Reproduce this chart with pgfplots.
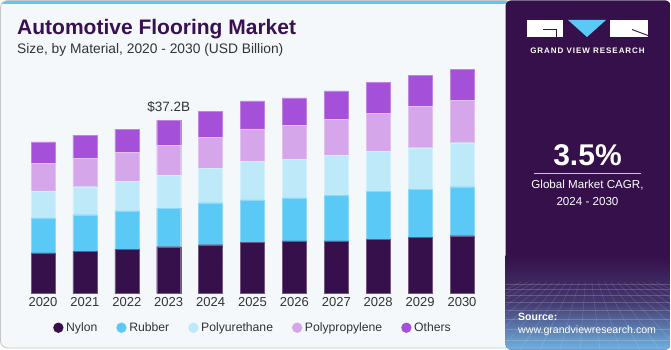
\documentclass[border=0pt]{standalone}
\usepackage{pgfplots}
\usepackage{pgfplotstable}
\pgfplotsset{compat=1.18}
\usepackage{fontspec}
\setmainfont{Liberation Sans}
\newfontfamily\gvrfont[LetterSpace=12]{Liberation Sans}
\definecolor{nylon}{HTML}{36104A}
\definecolor{rubber}{HTML}{5BC9F5}
\definecolor{pu}{HTML}{BDE9F9}
\definecolor{pp}{HTML}{D5A6EA}
\definecolor{others}{HTML}{A550D8}
\definecolor{panel}{HTML}{36104A}
\definecolor{bgl}{HTML}{F4F8FB}
\definecolor{titlec}{HTML}{3A1052}
\definecolor{txt}{HTML}{333333}
\definecolor{stripe}{HTML}{5BC8F5}
\definecolor{lowblue}{HTML}{6FB4E2}

\pgfplotstableread{
x nylon rubber pu pp others
0 8.67 7.53 5.81 5.96 4.58
1 9.03 7.87 6.02 6.17 4.88
2 9.46 8.24 6.45 6.17 5.01
3 10.02 8.32 7.10 6.39 5.37
4 10.45 9.03 7.46 6.67 5.59
5 10.97 9.10 8.24 7.03 6.02
6 11.25 9.25 8.24 7.40 5.87
7 11.25 9.89 8.60 7.68 6.09
8 11.61 10.32 8.67 8.11 6.67
9 11.96 10.41 8.94 8.82 6.75
10 12.38 10.54 9.46 9.12 6.67
}\datatable

\begin{document}
\begin{tikzpicture}
\path[use as bounding box] (0pt,0pt) rectangle (671pt,-350pt);
\begin{scope}[x=1pt,y=-1pt]
  \fill[white] (0,0) rectangle (671,350);
  % left panel
  \begin{scope}
    \clip[rounded corners=7pt] (0.5,0.5) rectangle (512,348);
    \fill[bgl] (0,0) rectangle (512,350);
    \fill[stripe] (0,0) rectangle (512,4);
  \end{scope}
  \draw[black!22, line width=0.8pt, rounded corners=7pt] (0.5,0.5) rectangle (512,348);
  % right panel
  \begin{scope}
    \clip[rounded corners=6pt] (505.5,0.3) rectangle (670.7,349.7);
    \fill[panel] (505,0) rectangle (671,350);
    \shade[top color=panel, bottom color=lowblue, middle color=panel!75!lowblue] (505,255) rectangle (671,350);
    \begin{scope}
      \clip (505,282) rectangle (671,350);
      \foreach \yy in {284,289,295,302,310,319,329,340} {
        \draw[white, opacity=0.18, line width=0.5pt] (505,\yy) -- (671,\yy);
      }
      \foreach \xx in {380,400,...,800} {
        \draw[white, opacity=0.15, line width=0.5pt] (588,250) -- (\xx,350);
      }
    \end{scope}
  \end{scope}
  % logo
  \fill[white] (527,20) rectangle (563,37);
  \draw[panel, line width=0.9pt] (543,29) -- (556,29) -- (556,37);
  \fill[stripe] (568,20) -- (606,20) -- (587,37) -- cycle;
  \fill[white] (610,20) rectangle (648,37);
  \draw[panel, line width=0.9pt] (632,29.5) -- (648,35.5);
  \node[anchor=base, inner sep=0pt, text=white, font=\gvrfont\fontsize{8}{9}\selectfont\bfseries] at (587.5,54) {GRAND VIEW RESEARCH};
  % CAGR
  \node[anchor=base, inner sep=0pt, text=white, font=\fontsize{30}{32}\selectfont\bfseries] at (587.5,165.7) {3.5\%};
  \draw[white!75!panel, line width=0.8pt] (534,173.3) -- (641,173.3);
  \node[anchor=base, inner sep=0pt, text=white, font=\fontsize{11.6}{14}\selectfont] at (587.5,188.5) {Global Market CAGR,};
  \node[anchor=base, inner sep=0pt, text=white, font=\fontsize{11.6}{14}\selectfont] at (587.5,205) {2024 - 2030};
  \node[anchor=base west, inner sep=0pt, text=white, font=\fontsize{10.5}{12}\selectfont\bfseries] at (518,320) {Source:};
  \node[anchor=base west, inner sep=0pt, text=white, font=\fontsize{10.6}{12}\selectfont] at (518,333) {www.grandviewresearch.com};
  % titles
  \node[anchor=base west, inner sep=0pt, text=titlec, font=\fontsize{21}{24}\selectfont\bfseries] at (17,35) {Automotive Flooring Market};
  \node[anchor=base west, inner sep=0pt, text=txt, font=\fontsize{13.8}{16}\selectfont] at (17,54) {Size, by Material, 2020 - 2030 (USD Billion)};
\end{scope}

\begin{axis}[
  at={(22.05pt,-293.3pt)}, anchor=south west,
  width=460.9pt, height=232.5pt, scale only axis,
  xmin=-0.5, xmax=10.5, ymin=0, ymax=50,
  ybar stacked, bar width=24pt,
  axis line style={draw=none},
  ytick=\empty,
  xtick=data,
  xticklabels={2020,2021,2022,2023,2024,2025,2026,2027,2028,2029,2030},
  major tick length=0pt,
  xticklabel style={font=\fontsize{13}{15}\selectfont, text=txt, yshift=-1pt},
  legend image code/.code={\fill[#1,draw=none] (0pt,0pt) circle (5.2pt);},
  legend style={at={(0.0671,-0.148)}, anchor=west, draw=none, fill=none,
    inner sep=0pt, font=\fontsize{12.2}{14}\selectfont, text=txt,
    legend columns=-1,
    nodes={inner xsep=2.6pt, inner ysep=2pt},
    /tikz/every even column/.append style={column sep=16.3pt}},
  clip=false,
]
\addplot[fill=nylon, draw=nylon!70!white, line width=0.4pt] table[x=x,y=nylon]{\datatable};
\addplot[fill=rubber, draw=rubber!70!white, line width=0.4pt] table[x=x,y=rubber]{\datatable};
\addplot[fill=pu, draw=pu!70!white, line width=0.4pt] table[x=x,y=pu]{\datatable};
\addplot[fill=pp, draw=pp!70!white, line width=0.4pt] table[x=x,y=pp]{\datatable};
\addplot[fill=others, draw=others!70!white, line width=0.4pt] table[x=x,y=others]{\datatable};
\legend{Nylon,Rubber,Polyurethane,Polypropylene,Others}
\node[font=\fontsize{13.5}{15}\selectfont, text=txt, inner sep=0pt] at (axis cs:3,37.2) [yshift=13.6pt] {\$37.2B};
\end{axis}
\end{tikzpicture}
\end{document}
